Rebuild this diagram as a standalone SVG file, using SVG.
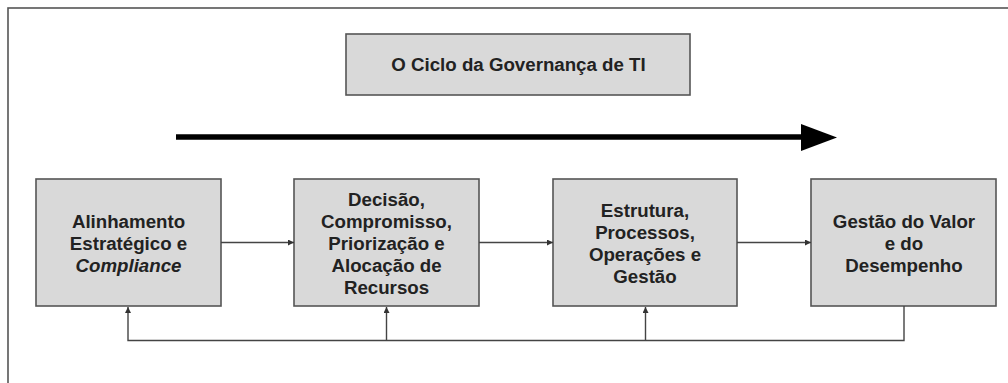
<svg xmlns="http://www.w3.org/2000/svg" width="1008" height="383" viewBox="0 0 1008 383">
<defs>
<style>
.box{fill:#d9d9d9;stroke:#555;stroke-width:1.6}
.t{font-family:"Liberation Sans",Arial,sans-serif;font-weight:bold;font-size:18.7px;fill:#222;text-anchor:middle}
.c{fill:none;stroke:#444;stroke-width:1.4}
</style>
<marker id="ah" viewBox="0 0 10 10" refX="10" refY="5" markerWidth="6" markerHeight="6" markerUnits="userSpaceOnUse" orient="auto">
<path d="M0,0 L10,5 L0,10 z" fill="#333"/>
</marker>
</defs>
<rect width="1008" height="383" fill="#fff"/>
<rect x="8" y="8" width="1020" height="400" fill="none" stroke="#555" stroke-width="1.6"/>
<g id="title">
<rect class="box" x="346" y="34" width="344" height="61"/>
<text class="t" x="518.5" y="71" font-size="18.9">O Ciclo da Governança de TI</text>
</g>
<g id="bigarrow">
<line x1="176" y1="137" x2="802" y2="137" stroke="#000" stroke-width="5.5"/>
<polygon points="801,124 837,137.5 801,151" fill="#000"/>
</g>
<g id="n1">
<rect class="box" x="36" y="179" width="185" height="127"/>
<text class="t" x="128.5" y="227.5">Alinhamento</text>
<text class="t" x="128.5" y="249.5">Estratégico e</text>
<text class="t" x="128.5" y="271.5" font-style="italic">Compliance</text>
</g>
<g id="n2">
<rect class="box" x="294" y="179" width="185" height="127"/>
<text class="t" x="386.5" y="206">Decisão,</text>
<text class="t" x="386.5" y="228">Compromisso,</text>
<text class="t" x="386.5" y="250">Priorização e</text>
<text class="t" x="386.5" y="272">Alocação de</text>
<text class="t" x="386.5" y="294">Recursos</text>
</g>
<g id="n3">
<rect class="box" x="553" y="179" width="184" height="127"/>
<text class="t" x="645" y="217">Estrutura,</text>
<text class="t" x="645" y="239">Processos,</text>
<text class="t" x="645" y="261">Operações e</text>
<text class="t" x="645" y="283">Gestão</text>
</g>
<g id="n4">
<rect class="box" x="811" y="179" width="185" height="127"/>
<text class="t" x="904" y="227.5">Gestão do Valor</text>
<text class="t" x="904" y="249.5">e do</text>
<text class="t" x="904" y="271.5">Desempenho</text>
</g>
<g id="connectors">
<line class="c" x1="221" y1="242.5" x2="294" y2="242.5" marker-end="url(#ah)"/>
<line class="c" x1="479" y1="242.5" x2="553" y2="242.5" marker-end="url(#ah)"/>
<line class="c" x1="737" y1="242.5" x2="811" y2="242.5" marker-end="url(#ah)"/>
<polyline class="c" points="904,306 904,340.5 128,340.5 128,307" marker-end="url(#ah)"/>
<line class="c" x1="386.5" y1="340.5" x2="386.5" y2="307" marker-end="url(#ah)"/>
<line class="c" x1="645.5" y1="340.5" x2="645.5" y2="307" marker-end="url(#ah)"/>
</g>
</svg>
